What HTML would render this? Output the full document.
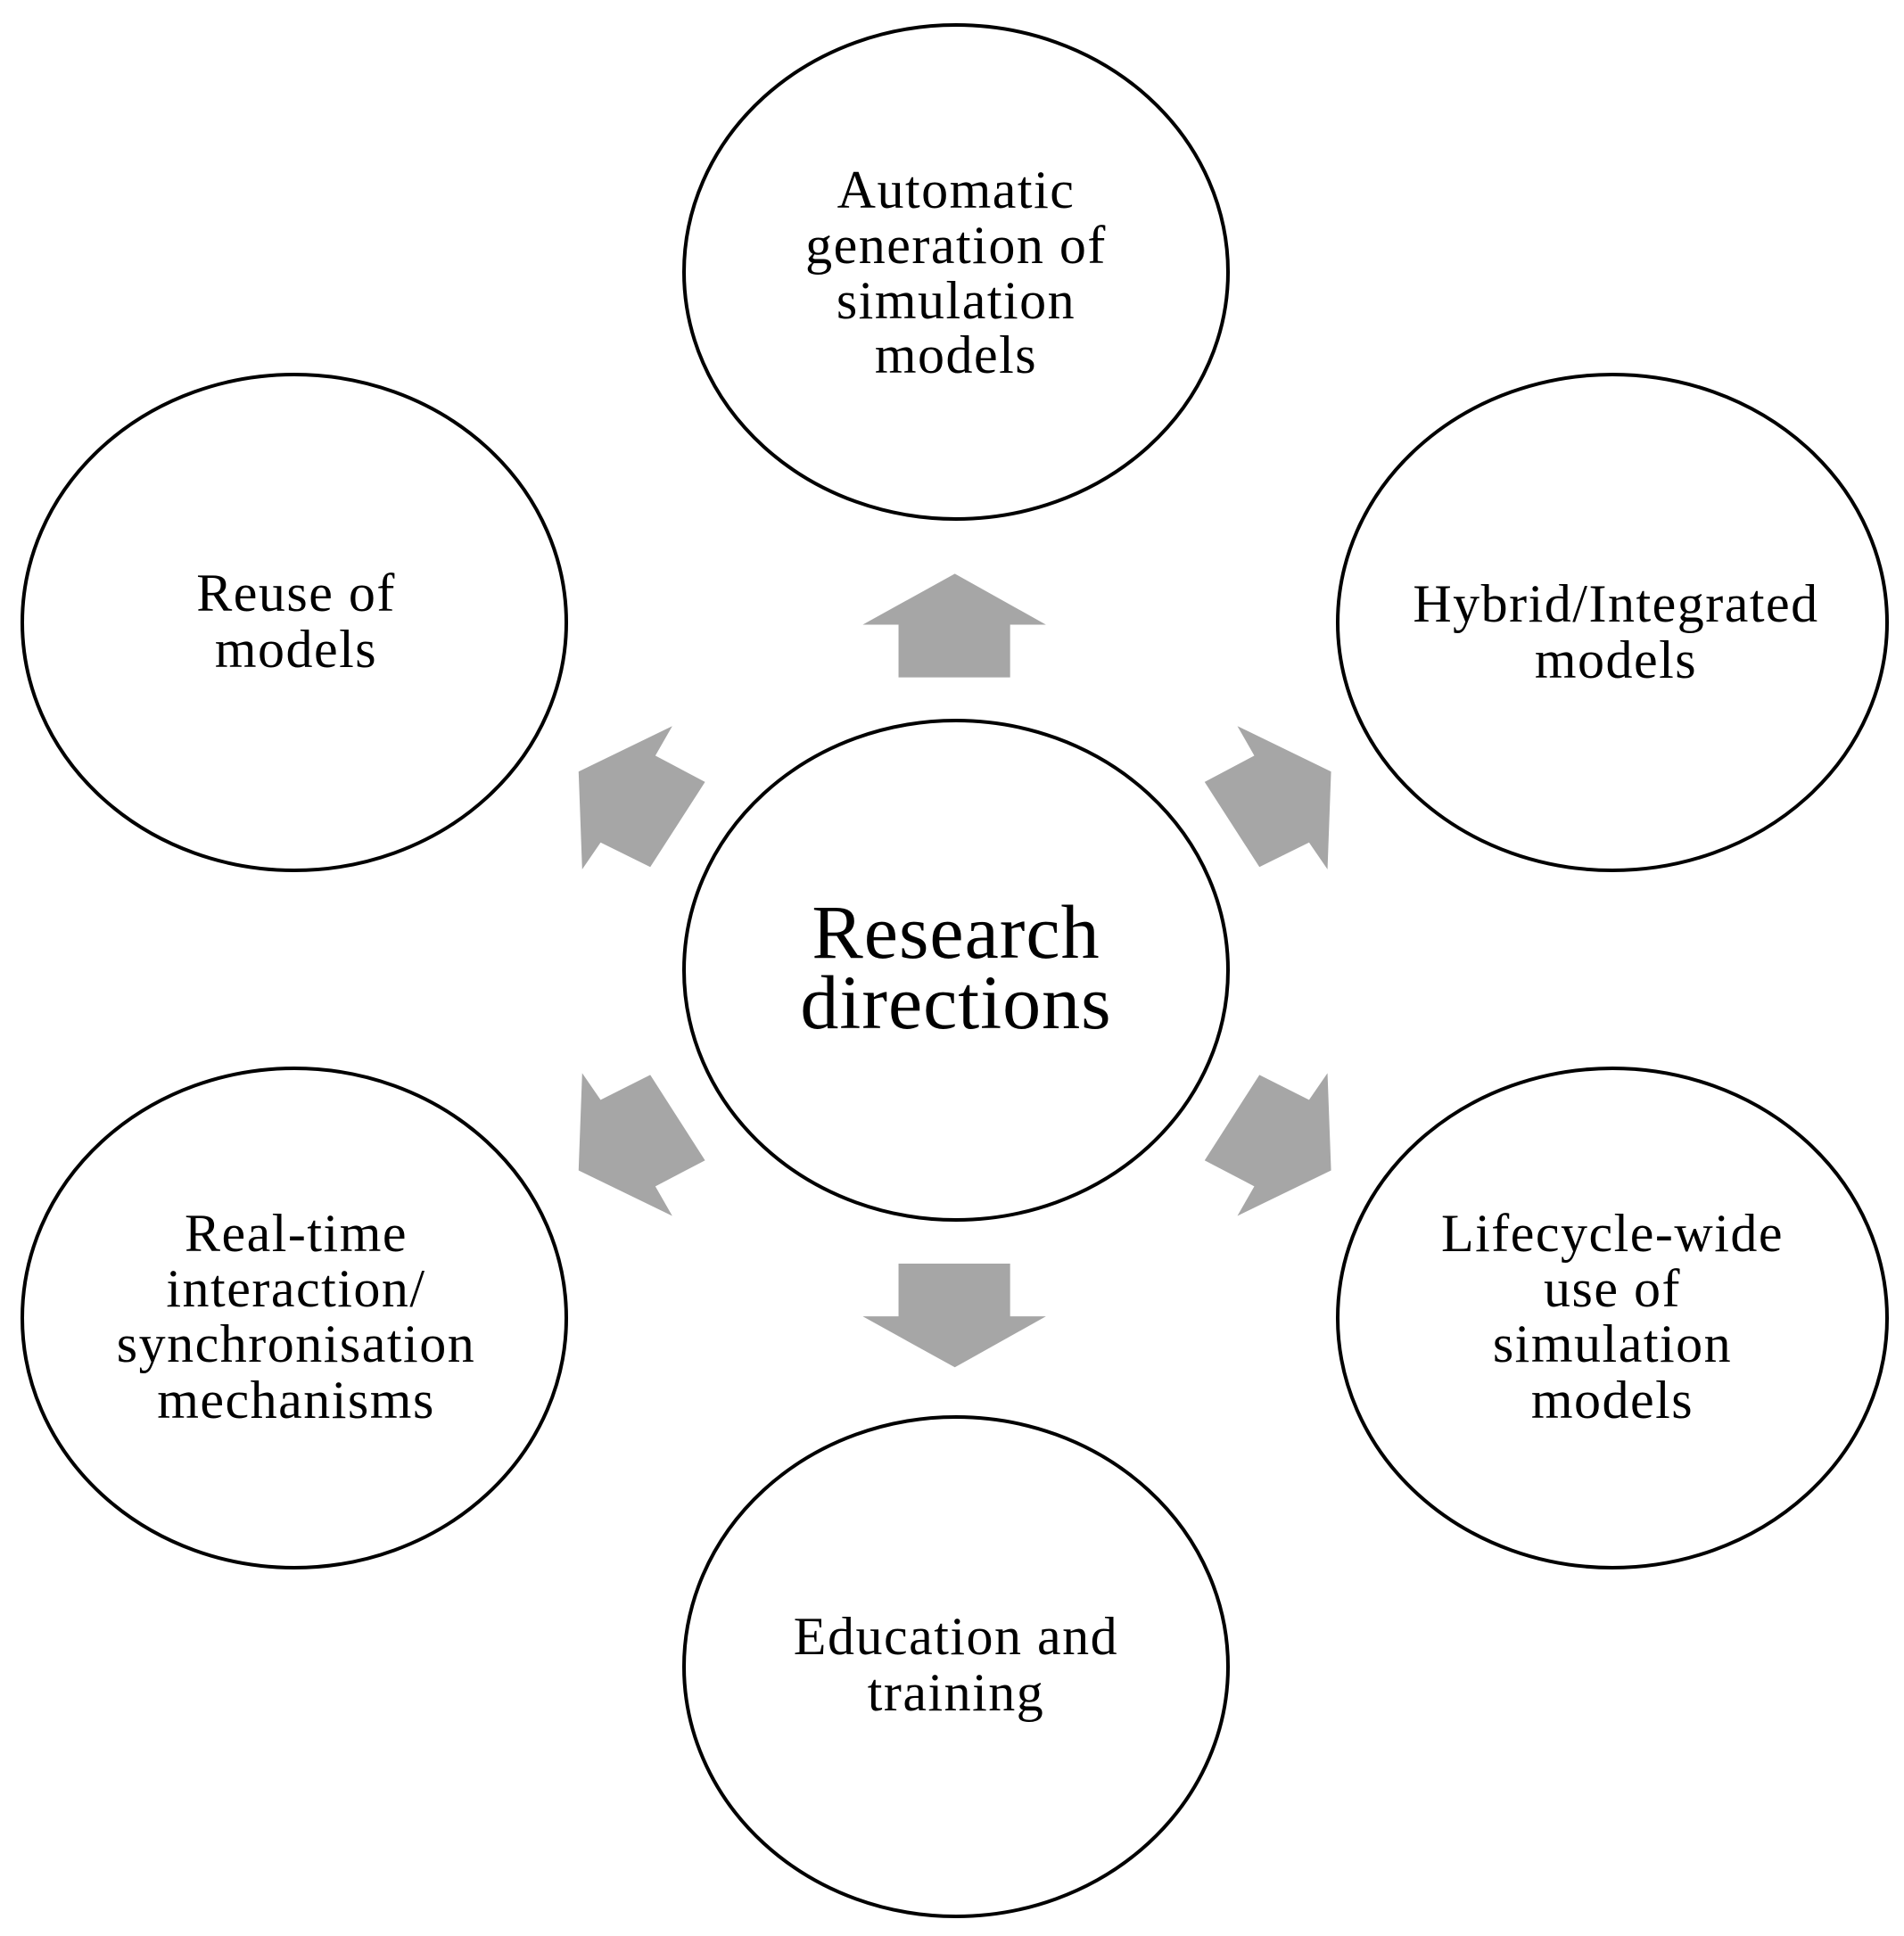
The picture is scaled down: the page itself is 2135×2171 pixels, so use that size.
<!DOCTYPE html>
<html><head><meta charset="utf-8"><style>
html,body{margin:0;padding:0;background:#fff;}
svg{display:block}
text{font-family:"Liberation Serif",serif;fill:#000;text-anchor:middle;}
.t{font-size:60px;letter-spacing:1.5px}
.c{font-size:86px;letter-spacing:1px}
</style></head><body>
<svg width="2135" height="2171" viewBox="0 0 2135 2171" xmlns="http://www.w3.org/2000/svg">
<g fill="none" stroke="#000" stroke-width="4">
<ellipse cx="1072" cy="305" rx="305" ry="277"/>
<ellipse cx="330" cy="698" rx="305" ry="278"/>
<ellipse cx="1808" cy="698" rx="308" ry="278"/>
<ellipse cx="1072" cy="1088" rx="305" ry="280"/>
<ellipse cx="330" cy="1478" rx="305" ry="280"/>
<ellipse cx="1808" cy="1478" rx="308" ry="280"/>
<ellipse cx="1072" cy="1869" rx="305" ry="280"/>
</g>
<g fill="#a6a6a6" transform="translate(600,600) scale(0.574,0.510)">
<polygon points="820,85 998,197 928,197 928,313 710,313 710,197 640,197"/>
<polygon points="820,1830 998,1718 928,1718 928,1602 710,1602 710,1718 640,1718"/>
<polygon points="268,420 235,485 332,543 225,730 128,676 92,735 85,520"/>
<polygon points="1372,420 1405,485 1308,543 1415,730 1512,676 1548,735 1555,520"/>
<polygon points="268,1497 235,1432 332,1375 225,1187 128,1242 92,1183 85,1397"/>
<polygon points="1372,1497 1405,1432 1308,1375 1415,1187 1512,1242 1548,1183 1555,1397"/>
</g>
<text class="c" x="1072" y="1074">Research</text>
<text class="c" x="1072" y="1153">directions</text>
<g class="t">
<text class="t" x="1072" y="233">Automatic</text>
<text class="t" x="1072" y="295">generation of</text>
<text class="t" x="1072" y="357">simulation</text>
<text class="t" x="1072" y="418">models</text>
<text class="t" x="332" y="685">Reuse of</text>
<text class="t" x="332" y="748">models</text>
<text class="t" x="1812" y="697">Hybrid/Integrated</text>
<text class="t" x="1812" y="760">models</text>
<text class="t" x="332" y="1403">Real-time</text>
<text class="t" x="332" y="1465">interaction/</text>
<text class="t" x="332" y="1527">synchronisation</text>
<text class="t" x="332" y="1590">mechanisms</text>
<text class="t" x="1808" y="1403">Lifecycle-wide</text>
<text class="t" x="1808" y="1465">use of</text>
<text class="t" x="1808" y="1527">simulation</text>
<text class="t" x="1808" y="1590">models</text>
<text class="t" x="1072" y="1855">Education and</text>
<text class="t" x="1072" y="1918">training</text>
</g>
</svg>
</body></html>
